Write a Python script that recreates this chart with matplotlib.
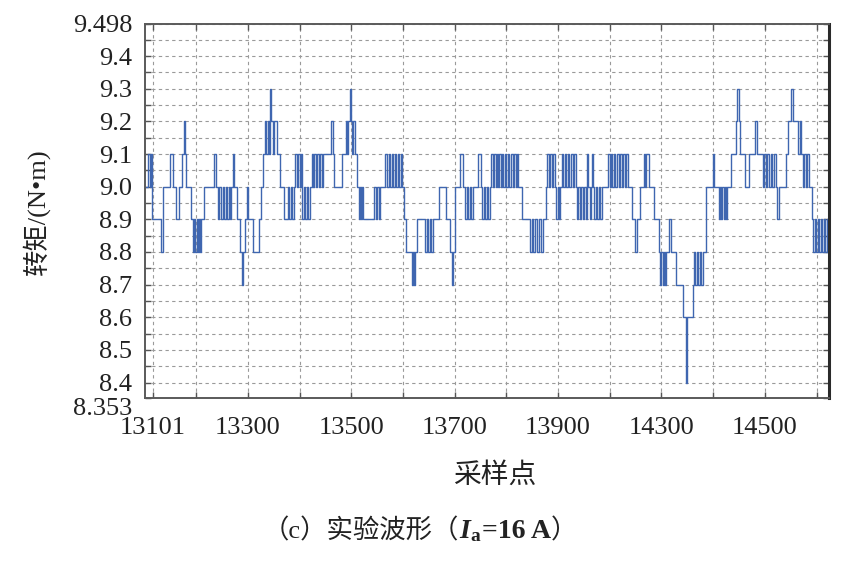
import matplotlib
matplotlib.use('Agg')
import matplotlib.pyplot as plt
from matplotlib.ticker import MultipleLocator, FixedLocator
from matplotlib.offsetbox import TextArea, HPacker, AnchoredOffsetbox

plt.rcParams['mathtext.fontset'] = 'custom'
plt.rcParams['mathtext.it'] = 'Liberation Serif:italic:bold'
plt.rcParams['mathtext.rm'] = 'Liberation Serif:bold'

# step breakpoints: (sample index, torque N*m), value holds until next sample
steps = [
    (13101, 9.0), (13106, 9.1), (13110, 9.0), (13113, 9.1), (13115, 8.9), (13132, 8.8),
    (13136, 9.0), (13149, 9.1), (13155, 9.0), (13160, 8.9), (13166, 9.0), (13173, 9.1),
    (13176, 9.2), (13179, 9.1), (13181, 9.0), (13190, 8.9), (13193, 8.8), (13196, 8.9),
    (13198, 8.8), (13201, 8.9), (13203, 8.8), (13206, 8.9), (13208, 8.8), (13210, 8.9),
    (13216, 9.0), (13235, 9.1), (13238, 9.0), (13242, 8.9), (13245, 9.0), (13248, 8.9),
    (13251, 9.0), (13254, 8.9), (13257, 9.0), (13260, 8.9), (13263, 9.0), (13266, 8.9),
    (13268, 9.0), (13271, 9.1), (13274, 9.0), (13279, 8.9), (13284, 8.8), (13288, 8.7),
    (13291, 8.8), (13295, 8.9), (13299, 9.0), (13301, 8.9), (13309, 8.8), (13322, 8.9),
    (13325, 9.0), (13330, 9.1), (13334, 9.2), (13336, 9.1), (13338, 9.2), (13340, 9.1),
    (13342, 9.3), (13345, 9.2), (13348, 9.1), (13350, 9.2), (13356, 9.1), (13363, 9.0),
    (13370, 8.9), (13378, 9.0), (13380, 8.9), (13383, 9.0), (13385, 8.9), (13389, 9.0),
    (13392, 9.1), (13395, 9.0), (13397, 9.1), (13400, 9.0), (13403, 9.1), (13405, 8.9),
    (13408, 9.0), (13411, 8.9), (13414, 9.0), (13417, 8.9), (13420, 9.0), (13424, 9.1),
    (13426, 9.0), (13428, 9.1), (13431, 9.0), (13434, 9.1), (13437, 9.0), (13440, 9.1),
    (13443, 9.0), (13446, 9.1), (13461, 9.2), (13464, 9.1), (13466, 9.0), (13482, 9.1),
    (13489, 9.2), (13492, 9.1), (13494, 9.2), (13497, 9.3), (13499, 9.2), (13502, 9.1),
    (13504, 9.2), (13507, 9.1), (13512, 9.0), (13515, 8.9), (13517, 9.0), (13519, 8.9),
    (13521, 9.0), (13523, 8.9), (13544, 9.0), (13547, 8.9), (13550, 9.0), (13553, 8.9),
    (13556, 9.0), (13566, 9.1), (13569, 9.0), (13572, 9.1), (13575, 9.0), (13578, 9.1),
    (13581, 9.0), (13584, 9.1), (13587, 9.0), (13590, 9.1), (13593, 9.0), (13596, 9.1),
    (13598, 9.0), (13601, 8.9), (13605, 8.8), (13617, 8.7), (13619, 8.8), (13621, 8.7),
    (13623, 8.8), (13627, 8.9), (13643, 8.8), (13646, 8.9), (13649, 8.8), (13652, 8.9),
    (13655, 8.8), (13658, 8.9), (13669, 9.0), (13683, 8.9), (13690, 8.8), (13694, 8.7),
    (13697, 8.8), (13700, 9.0), (13711, 9.1), (13716, 9.0), (13720, 8.9), (13723, 9.0),
    (13726, 8.9), (13729, 9.0), (13732, 8.9), (13735, 9.0), (13746, 9.1), (13750, 9.0),
    (13753, 8.9), (13756, 9.0), (13759, 8.9), (13762, 9.0), (13765, 8.9), (13768, 9.0),
    (13771, 9.1), (13774, 9.0), (13776, 9.1), (13779, 9.0), (13781, 9.1), (13784, 9.0),
    (13786, 9.1), (13789, 9.0), (13791, 9.1), (13794, 9.0), (13797, 9.1), (13800, 9.0),
    (13803, 9.1), (13806, 9.0), (13809, 9.1), (13812, 9.0), (13815, 9.1), (13818, 9.0),
    (13820, 9.1), (13823, 9.0), (13830, 8.9), (13846, 8.8), (13849, 8.9), (13852, 8.8),
    (13856, 8.9), (13859, 8.8), (13863, 8.9), (13866, 8.8), (13870, 8.9), (13877, 9.0),
    (13879, 9.1), (13882, 9.0), (13884, 9.1), (13888, 9.0), (13890, 9.1), (13894, 9.0),
    (13896, 8.9), (13899, 9.0), (13901, 8.9), (13904, 9.0), (13907, 9.1), (13910, 9.0),
    (13913, 9.1), (13916, 9.0), (13919, 9.1), (13922, 9.0), (13925, 9.1), (13928, 9.0),
    (13931, 9.1), (13934, 9.0), (13936, 8.9), (13939, 9.0), (13942, 8.9), (13945, 9.0),
    (13948, 8.9), (13951, 9.0), (13954, 8.9), (13956, 9.1), (13958, 9.0), (13961, 8.9),
    (13964, 9.0), (13966, 9.1), (13968, 9.0), (13970, 8.9), (13973, 9.0), (13976, 8.9),
    (13979, 9.0), (13982, 8.9), (13985, 9.0), (13997, 9.1), (14000, 9.0), (14002, 9.1),
    (14005, 9.0), (14008, 9.1), (14011, 9.0), (14014, 9.1), (14017, 9.0), (14020, 9.1),
    (14023, 9.0), (14026, 9.1), (14029, 9.0), (14032, 9.1), (14035, 9.0), (14042, 8.9),
    (14049, 8.8), (14052, 8.9), (14058, 9.0), (14066, 9.1), (14069, 9.0), (14071, 9.1),
    (14075, 9.0), (14086, 8.9), (14095, 8.8), (14098, 8.7), (14100, 8.8), (14102, 8.7),
    (14104, 8.8), (14106, 8.7), (14108, 8.8), (14115, 8.9), (14119, 8.8), (14129, 8.7),
    (14142, 8.6), (14147, 8.4), (14149, 8.6), (14160, 8.7), (14162, 8.8), (14165, 8.7),
    (14168, 8.8), (14171, 8.7), (14174, 8.8), (14177, 8.7), (14180, 8.8), (14187, 9.0),
    (14199, 9.1), (14201, 9.0), (14212, 8.9), (14214, 9.0), (14216, 8.9), (14218, 9.0),
    (14220, 8.9), (14222, 9.0), (14224, 8.9), (14227, 9.0), (14235, 9.1), (14244, 9.2),
    (14247, 9.3), (14249, 9.2), (14251, 9.1), (14261, 9.0), (14270, 9.1), (14280, 9.2),
    (14284, 9.1), (14296, 9.0), (14299, 9.1), (14302, 9.0), (14305, 9.1), (14308, 9.0),
    (14311, 9.1), (14314, 9.0), (14318, 9.1), (14321, 9.0), (14323, 8.9), (14327, 9.0),
    (14341, 9.1), (14344, 9.2), (14351, 9.3), (14354, 9.2), (14365, 9.1), (14368, 9.2),
    (14370, 9.1), (14373, 9.0), (14376, 9.1), (14379, 9.0), (14382, 9.1), (14386, 9.0),
    (14391, 8.9), (14393, 8.8), (14396, 8.9), (14399, 8.8), (14402, 8.9), (14405, 8.8),
    (14408, 8.9), (14411, 8.8), (14414, 8.9), (14417, 8.8), (14420, 8.9), (14424, 8.9),
]
sample = [s for s, v in steps]
torque = [v for s, v in steps]

x_min, x_max = 13101, 14424
y_min, y_max = 8.353, 9.498
xtick_pos = [13116, 13300, 13500, 13700, 13900, 14100, 14300]
xtick_labels = ['13101', '13300', '13500', '13700', '13900', '14300', '14500']
ytick_vals = [8.353, 8.4, 8.5, 8.6, 8.7, 8.8, 8.9, 9.0, 9.1, 9.2, 9.3, 9.4, 9.498]
ytick_labels = ['8.353', '8.4', '8.5', '8.6', '8.7', '8.8', '8.9', '9.0', '9.1', '9.2', '9.3', '9.4', '9.498']

cjk = ['Noto Sans CJK SC', 'DejaVu Sans']
mixed = ['Liberation Serif', 'Noto Sans CJK SC', 'DejaVu Sans']
serif = 'Liberation Serif'

fig = plt.figure(figsize=(8.52, 5.67), dpi=100)
ax = fig.add_axes([145 / 852, 1 - 398 / 567, 684 / 852, 374 / 567])

ax.plot(sample, torque, drawstyle='steps-post', color='#3f66b0', lw=1.0)

ax.set_xlim(x_min, x_max)
ax.set_ylim(y_min, y_max)
ax.xaxis.set_major_locator(FixedLocator(xtick_pos))
ax.xaxis.set_minor_locator(MultipleLocator(100))
ax.set_xticklabels(xtick_labels)
ax.yaxis.set_major_locator(FixedLocator(ytick_vals))
ax.yaxis.set_minor_locator(MultipleLocator(0.05))
ax.set_yticklabels(ytick_labels)

for lab in ax.get_xticklabels() + ax.get_yticklabels():
    lab.set_family(serif)
    lab.set_fontsize(19)
    lab.set_color('#222222')
ax.yaxis.get_major_ticks()[0].label1.set_va('top')

ax.tick_params(which='both', direction='in', top=True, right=True, length=4,
               width=1.0, color='#555555')
ax.tick_params(axis='x', which='major', pad=14)
ax.tick_params(axis='y', which='major', pad=9)

ax.grid(which='both', ls=(0, (3, 3)), color='#9a9a9a', lw=0.8)
ax.set_axisbelow(True)

for side in ['left', 'bottom', 'top']:
    ax.spines[side].set_color('#5a5a5a')
    ax.spines[side].set_linewidth(1.4)
ax.spines['right'].set_color('#2a2a2a')
ax.spines['right'].set_linewidth(2.2)

fig.text(36 / 852, 1 - 212 / 567, '转矩/(N•m)', rotation=90, ha='center', va='center',
         fontsize=19, family=mixed, color='#222222')
fig.text(495 / 852, 1 - 475 / 567, '采样点', ha='center', va='center',
         fontsize=20, family=cjk, color='#222222')

# caption: （c）实验波形（I_a=16 A）
parts = [
    TextArea('（c）实验波形（', textprops=dict(fontsize=19, family=mixed, color='#222222')),
    TextArea(r'$I_{\mathrm{a}}$', textprops=dict(fontsize=20, color='#222222')),
    TextArea('=16 A', textprops=dict(fontsize=20, family=serif, weight='bold', color='#222222')),
    TextArea('）', textprops=dict(fontsize=19, family=mixed, color='#222222')),
]
caption = HPacker(children=parts, align='baseline', pad=0, sep=0)
anchored = AnchoredOffsetbox(loc='center', child=caption, frameon=False, pad=0, borderpad=0,
                             bbox_to_anchor=(420 / 852, 1 - 530 / 567),
                             bbox_transform=fig.transFigure)
fig.add_artist(anchored)

fig.savefig('out.png', dpi=100)
